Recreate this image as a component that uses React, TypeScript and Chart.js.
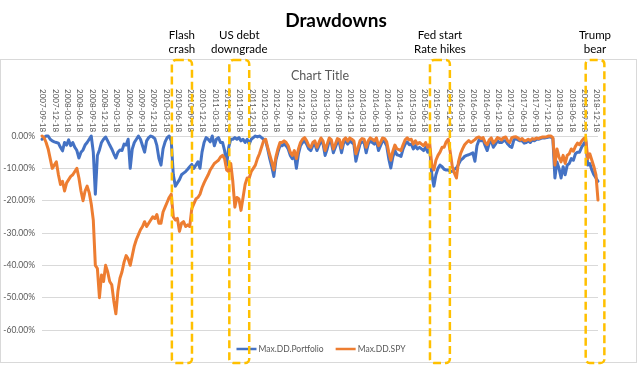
import React, { useEffect, useRef } from "react";
import { Chart, registerables } from "chart.js";

Chart.register(...registerables);

const mainTitle = "Drawdowns";
const chartTitle = "Chart Title";
const seriesNames = ["Max.DD.Portfolio", "Max.DD.SPY"];
const seriesColors = ["#4472C4", "#ED7D31"];

// categories: semimonthly observation dates (18th and 3rd of each month), plus the last trading day shown
const pad2 = (n: number) => (n < 10 ? "0" + n : "" + n);
const categories: string[] = [];
for (let k = 0; k <= 135; k++) {
  const m = 8 + k; // zero-based month offset from Jan 2007 (Sep 2007 = 8)
  categories.push(`${2007 + Math.floor(m / 12)}-${pad2((m % 12) + 1)}-18`);
  if (k < 135) {
    const m2 = m + 1;
    categories.push(`${2007 + Math.floor(m2 / 12)}-${pad2((m2 % 12) + 1)}-03`);
  }
}
categories.push("2018-12-24");

// quarterly tick labels shown on the category axis
const tickLabels = categories.filter((c) => /-(03|06|09|12)-18$/.test(c));

// drawdown of the portfolio, in percent
const portfolioDD = [
  -1, -0.5, 0, 0, -1, -1.5, -1.8, -2, -2.2, -3.5,
  -4.6, -2, -2.8, -1.2, -3, -2, -3.5, -4.5, -6.8, -5,
  -4.3, -2.8, -2, -1, 0, -5, -18, -6, -4.3, -2,
  -1, -0.3, -1.5, -2.8, -4, -5.5, -6.8, -5, -4.3, -4.5,
  -2.5, -2.8, -1, -10, -4, -2, -1, 0, -1, -3,
  -5, -1.5, -0.5, 0, -0.3, -0.8, -3, -7, -9, -4,
  -1.8, -0.5, 0, -1.5, -12, -15.5, -14.5, -13.5, -12, -11.5,
  -11, -10.3, -9.5, -8.8, -10, -9, -8, -10, -5, -2,
  -0.5, -1, -1.8, 0, -3, -1, -0.5, -2, -2, -4.5,
  -9, -3.5, -1, -1, -0.5, -1, -0.5, -1.5, -1, -2,
  -1, -2.5, -1, -0.5, 0, -0.3, 0, -0.5, -1, -1.5,
  -4, -7, -9.5, -12.5, -7.5, -5, -3, -3, -2.5, -3,
  -4, -6, -7, -5.5, -10, -5.5, -3, -2, -1.5, -2.5,
  -4, -4.5, -3, -2.5, -4.5, -3, -1.6, -2.5, -6, -4,
  -1.5, -2, -5.2, -3.5, -1.8, -2.2, -5.2, -2.2, -1.5, -2.5,
  -1.5, -2, -2.5, -7.8, -5, -2.5, -1.8, -2, -5.2, -2.5,
  -1.5, -2, -2.5, -1.5, -4.5, -3, -1.5, -1.8, -3, -7,
  -9.9, -6.5, -4.5, -5.8, -6, -6.3, -4, -2.5, -1.8, -2.7,
  -2.5, -4, -3, -4, -3.5, -4, -4.5, -3.5, -5, -4,
  -12, -15.5, -12, -10, -9, -9.5, -10.3, -10.5, -10.5, -11,
  -10.9, -10.3, -9.9, -8.8, -7.5, -7, -6.3, -6, -5.8, -5.5,
  -5.2, -7.8, -3, -1.2, -1.5, -1.2, -3, -4.5, -2.2, -1.5,
  -3.5, -2.5, -1.5, -2, -2, -1.5, -1.5, -2.5, -3.2, -3.5,
  -1.2, -0.8, -1.2, -1.5, -1.5, -2.2, -2, -1.5, -2, -1.2,
  -1.5, -1, -1, -0.8, -0.6, -0.6, -0.5, -0.3, -0.3, -0.8,
  -13, -8, -10, -13, -9.5, -12, -9, -8.5, -7, -7.5,
  -5.5, -5, -5, -3.5, -2.5, -1.5, -9, -8.5, -10.5, -12,
  -13, -14,
];

// drawdown of SPY, in percent
const spyDD = [
  0, -0.5, -2, -4, -7, -10, -9, -8, -12, -15,
  -14, -17, -14.5, -13.5, -12.5, -12, -11, -10, -13, -17,
  -20, -17, -15.5, -17.5, -21, -26, -40, -41, -50, -43,
  -45, -40, -42, -45, -46, -51, -55, -48, -44, -42,
  -39, -37, -38, -40, -37, -34, -32, -30.5, -29, -28,
  -26.5, -28, -27, -26, -25, -25.5, -24.3, -27, -27, -23.5,
  -22, -20.5, -19, -18, -25, -26, -25.5, -29.5, -27, -26.5,
  -28, -27.5, -28, -22.5, -21, -19.5, -19, -18, -16, -14.5,
  -13.2, -12, -10.5, -9.5, -8.5, -8, -7.5, -6.5, -6, -7,
  -10.5, -11, -8.5, -14, -22, -19, -19.5, -23, -19, -15,
  -13, -13, -11, -10, -9, -7, -5.5, -3.5, -1.5, -1,
  -3.5, -5.8, -8, -10.5, -6.5, -4, -2, -2, -1.5, -2,
  -3, -5, -6, -4.5, -7, -4, -2, -1, -0.5, -1.5,
  -3, -3.5, -2, -1.5, -3.5, -2, -0.6, -1.6, -4.5, -2.5,
  -0.6, -1.1, -4, -2.5, -0.8, -1.1, -3.7, -1.2, -0.6, -1.6,
  -0.6, -1, -1.5, -5.5, -3.7, -1.5, -0.8, -1, -3.5, -1.5,
  -0.6, -1, -1.5, -0.6, -3, -2, -0.6, -0.8, -1.8, -5,
  -7.5, -4.7, -2.8, -4, -4.2, -4.5, -2.7, -1.2, -0.6, -1.2,
  -1, -2.5, -1.5, -2.5, -2, -2.5, -3, -2, -3.5, -2.5,
  -9, -10.5, -7.5, -6, -5, -3.5, -3.5, -1.8, -1, -5,
  -9.5, -11.5, -13, -8, -5.5, -4, -2.7, -2, -1.4, -2,
  -1.6, -1.1, -0.5, -0.3, -0.8, -0.5, -2, -2.7, -1.2, -0.6,
  -2.2, -1.5, -0.5, -0.8, -1.2, -0.5, -0.3, -1.5, -2, -0.5,
  -0.3, -0.2, -0.6, -1.2, -0.8, -1.5, -1.4, -1, -1.4, -0.8,
  -1, -0.6, -0.8, -0.5, -0.3, -0.3, -0.2, 0, 0, -0.5,
  -9, -4, -6.5, -8, -6, -8.5, -6, -5.5, -4, -4.7,
  -3.2, -2.2, -2.7, -1.6, -0.8, -0.5, -7, -5.5, -7.5, -9.5,
  -12, -19.8,
];

// y axis range and step, in percent
const yMin = -60;
const yMax = 0;
const yStep = 10;

// event annotations: labels and the span they cover (category index units)
const eventLabels = [["Flash", "crash"], ["US debt", "downgrade"], ["Fed start", "Rate hikes"], ["Trump", "bear"]];
const eventFrom = [63.3, 91.3, 189.1, 265.0];
const eventTo = [73.1, 101.0, 198.8, 274.1];

const FONT = "Lato, 'Open Sans', sans-serif";

const decorPlugin = {
  id: "decor",
  beforeDraw(chart: any) {
    const ctx = chart.ctx;
    ctx.save();
    ctx.fillStyle = "#ffffff";
    ctx.fillRect(0, 0, chart.width, chart.height);
    ctx.strokeStyle = "#d9d9d9";
    ctx.lineWidth = 1;
    ctx.strokeRect(0.5, 59.5, 636, 303);
    ctx.restore();
  },
  afterDraw(chart: any) {
    const ctx = chart.ctx;
    const xs = chart.scales.x;
    const area = chart.chartArea;
    ctx.save();

    // main title
    ctx.fillStyle = "#000000";
    ctx.font = `bold 19px ${FONT}`;
    ctx.textAlign = "center";
    ctx.textBaseline = "alphabetic";
    ctx.fillText(mainTitle, 336, 27);

    // chart title inside the box
    ctx.fillStyle = "#595959";
    ctx.font = `12.5px ${FONT}`;
    ctx.fillText(chartTitle, (area.left + area.right) / 2, 80);

    // rotated category labels at the top of the plot
    ctx.font = `8px ${FONT}`;
    ctx.fillStyle = "#595959";
    tickLabels.forEach((lbl) => {
      const idx = categories.indexOf(lbl);
      const x = xs.getPixelForValue(idx);
      ctx.save();
      ctx.translate(x + 1, 89);
      ctx.rotate(Math.PI / 2);
      ctx.textAlign = "left";
      ctx.textBaseline = "middle";
      ctx.fillText(lbl, 0, 0);
      ctx.restore();
    });

    // legend
    ctx.font = `8.5px ${FONT}`;
    ctx.textBaseline = "middle";
    ctx.textAlign = "left";
    const lineLen = 20;
    const gapText = 2;
    const gapItem = 12;
    const widths = seriesNames.map((n) => ctx.measureText(n).width);
    const total = widths.reduce((a, w) => a + lineLen + gapText + w, 0) + gapItem * (seriesNames.length - 1);
    let lx = (area.left + area.right) / 2 + 1 - total / 2;
    const ly = 349;
    seriesNames.forEach((n, i) => {
      ctx.strokeStyle = seriesColors[i];
      ctx.lineWidth = 2.5;
      ctx.setLineDash([]);
      ctx.beginPath();
      ctx.moveTo(lx, ly);
      ctx.lineTo(lx + lineLen, ly);
      ctx.stroke();
      ctx.fillStyle = "#595959";
      ctx.fillText(n, lx + lineLen + gapText, ly + 0.5);
      lx += lineLen + gapText + widths[i] + gapItem;
    });

    // event boxes and captions
    eventLabels.forEach((lines, i) => {
      const x1 = xs.getPixelForValue(eventFrom[i]);
      const x2 = xs.getPixelForValue(eventTo[i]);
      const top = 60;
      const bottom = 363;
      ctx.strokeStyle = "#FFC000";
      ctx.lineWidth = 2.5;
      ctx.setLineDash([8, 4]);
      ctx.beginPath();
      if (ctx.roundRect) {
        ctx.roundRect(x1, top, x2 - x1, bottom - top, 4);
      } else {
        ctx.rect(x1, top, x2 - x1, bottom - top);
      }
      ctx.stroke();
      ctx.setLineDash([]);
      ctx.fillStyle = "#000000";
      ctx.font = `11.5px ${FONT}`;
      ctx.textAlign = "center";
      ctx.textBaseline = "alphabetic";
      const cx = (x1 + x2) / 2;
      lines.forEach((t, j) => ctx.fillText(t, cx, 38.5 + j * 14.5));
    });

    ctx.restore();
  },
};

export default function App() {
  const ref = useRef<HTMLCanvasElement | null>(null);

  useEffect(() => {
    if (!ref.current) return;
    const chart = new Chart(ref.current, {
      type: "line",
      data: {
        labels: categories,
        datasets: [
          {
            label: seriesNames[0],
            data: portfolioDD,
            borderColor: seriesColors[0],
            backgroundColor: seriesColors[0],
            borderWidth: 3,
            pointRadius: 0,
            tension: 0,
            borderJoinStyle: "round",
            borderCapStyle: "round",
            clip: false,
            order: 1,
          },
          {
            label: seriesNames[1],
            data: spyDD,
            borderColor: seriesColors[1],
            backgroundColor: seriesColors[1],
            borderWidth: 3,
            pointRadius: 0,
            tension: 0,
            borderJoinStyle: "round",
            borderCapStyle: "round",
            clip: false,
            order: 0,
          },
        ],
      },
      options: {
        responsive: false,
        animation: false,
        devicePixelRatio: 1,
        layout: { padding: { left: 0, right: 42, top: 136, bottom: 35 } },
        plugins: {
          legend: { display: false },
          title: { display: false },
          tooltip: { enabled: false },
        },
        scales: {
          x: {
            type: "category",
            display: false,
            offset: false,
          },
          y: {
            min: yMin,
            max: yMax,
            afterFit: (scale: any) => {
              scale.width = 42;
            },
            border: { display: false },
            grid: { color: "#d9d9d9", lineWidth: 1, drawTicks: false },
            ticks: {
              stepSize: yStep,
              padding: 7,
              color: "#595959",
              font: { family: FONT, size: 8.5 },
              callback: (v: any) => Number(v).toFixed(2) + "%",
            },
          },
        },
      },
      plugins: [decorPlugin],
    });
    return () => chart.destroy();
  }, []);

  return (
    <div style={{ position: "absolute", left: 0, top: 0, width: 640, height: 365, background: "#ffffff" }}>
      <canvas ref={ref} width={640} height={365} style={{ display: "block" }} />
    </div>
  );
}
